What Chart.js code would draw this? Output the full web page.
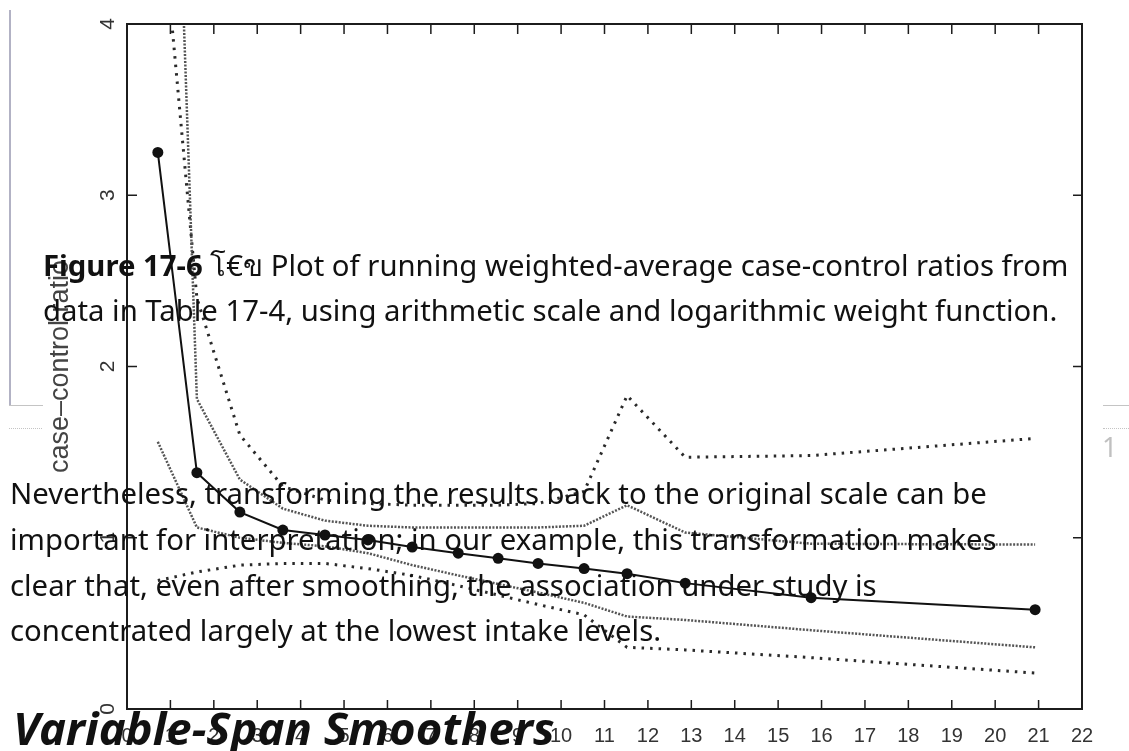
<!DOCTYPE html>
<html>
<head>
<meta charset="utf-8">
<script src="https://cdn.jsdelivr.net/npm/chart.js@4.4.1/dist/chart.umd.min.js"></script>
<style>
  body { margin: 0; background: #fff; }
  #page { position: relative; width: 1129px; height: 751px; overflow: hidden; background: #fff; }
  #chart { position: absolute; left: 0; top: 0; filter: blur(0.35px); }
  .line { position: absolute; white-space: nowrap; font: 29.3px/1 "Noto Sans", sans-serif; color: #111; }
  .heading { position: absolute; white-space: nowrap; font: italic bold 45.5px/1 "Noto Sans", sans-serif; color: #111; }
  .edge-v { position: absolute; left: 9px; top: 10px; width: 2px; height: 395px; background: #b2b2c4; }
  .edge-h { position: absolute; height: 1px; background: #c4c4c4; }
  .edge-dot { position: absolute; border-top: 1px dotted #c4c4c4; }
  .page-no { position: absolute; left: 1102px; top: 433px; font: 27px/1 "Noto Sans", sans-serif; color: #c0c0c0; }
</style>
</head>
<body>
<div id="page">
  <canvas id="chart" width="1129" height="751"></canvas>

  <div class="edge-v"></div>
  <div class="edge-h" style="left:9px; top:405px; width:34px"></div>
  <div class="edge-dot" style="left:9px; top:428px; width:33px"></div>
  <div class="edge-h" style="left:1103px; top:405px; width:26px"></div>
  <div class="edge-dot" style="left:1103px; top:428px; width:26px"></div>
  <div class="page-no">1</div>

  <div class="line" style="left:43px; top:251px"><b>Figure 17-6</b> โ€ข Plot of running weighted-average case-control ratios from</div>
  <div class="line" style="left:43px; top:296px">data in Table 17-4, using arithmetic scale and logarithmic weight function.</div>

  <div class="line" style="left:10px; top:479px">Nevertheless, transforming the results back to the original scale can be</div>
  <div class="line" style="left:10px; top:525px">important for interpretation; in our example, this transformation makes</div>
  <div class="line" style="left:10px; top:571px">clear that, even after smoothing, the association under study is</div>
  <div class="line" style="left:10px; top:616px">concentrated largely at the lowest intake levels.</div>

  <div class="heading" style="left:13px; top:705px">Variable-Span Smoothers</div>
</div>

<script>
// intake level (x) of each smoothed point
const intake = [0.71, 1.61, 2.6, 3.59, 4.56, 5.55, 6.57, 7.63, 8.55, 9.47, 10.53, 11.52, 12.86, 15.76, 20.92];
// running weighted-average case-control ratio
const ratio = [3.25, 1.38, 1.15, 1.045, 1.016, 0.987, 0.946, 0.91, 0.88, 0.85, 0.82, 0.79, 0.735, 0.65, 0.58];
// inner limits (fine dots)
const innerUpper = [8.4, 1.81, 1.34, 1.17, 1.1, 1.07, 1.06, 1.06, 1.06, 1.06, 1.07, 1.19, 1.03, 0.965, 0.96];
const innerLower = [1.56, 1.06, 1.0, 0.97, 0.95, 0.91, 0.84, 0.78, 0.73, 0.68, 0.62, 0.54, 0.52, 0.46, 0.36];
// outer limits (coarse dots)
const outerUpper = [4.9, 2.4, 1.6, 1.3, 1.22, 1.2, 1.19, 1.19, 1.19, 1.2, 1.27, 1.83, 1.47, 1.48, 1.58];
const outerLower = [0.75, 0.8, 0.84, 0.85, 0.85, 0.82, 0.78, 0.72, 0.665, 0.61, 0.55, 0.36, 0.345, 0.3, 0.21];

const xRange = [0, 22];
const yRange = [0, 4];
const yTitle = 'case\u2013control ratio';

const toPoints = (ys) => ys.map((y, i) => ({ x: intake[i], y }));

const band = (values, dash, color, width) => ({
    data: toPoints(values),
    borderColor: color,
    borderWidth: width,
    borderDash: dash,
    pointRadius: 0,
    tension: 0,
    order: 2,
});

// box round the plot, inward tick marks, rotated y labels
const framePlugin = {
    id: 'frame',
    afterDraw(chart) {
        const { ctx, chartArea: a, scales: { x, y } } = chart;
        ctx.save();
        ctx.strokeStyle = '#1c1c1c';
        ctx.lineWidth = 2;
        ctx.strokeRect(a.left, a.top, a.width, a.height);

        ctx.lineWidth = 1.5;
        ctx.beginPath();
        x.ticks.forEach(({ value }) => {
            if (value <= x.min || value >= x.max) return;
            const px = x.getPixelForValue(value);
            ctx.moveTo(px, a.top);
            ctx.lineTo(px, a.top + 10);
            ctx.moveTo(px, a.bottom);
            ctx.lineTo(px, a.bottom - 9);
        });
        y.ticks.forEach(({ value }) => {
            if (value <= y.min || value >= y.max) return;
            const py = y.getPixelForValue(value);
            ctx.moveTo(a.left, py);
            ctx.lineTo(a.left + 10, py);
            ctx.moveTo(a.right, py);
            ctx.lineTo(a.right - 9, py);
        });
        ctx.stroke();

        ctx.fillStyle = '#333';
        ctx.font = '21px "Liberation Sans", Arial, sans-serif';
        ctx.textAlign = 'center';
        ctx.textBaseline = 'middle';
        y.ticks.forEach(({ value, label }) => {
            ctx.save();
            ctx.translate(a.left - 19, y.getPixelForValue(value));
            ctx.rotate(-Math.PI / 2);
            ctx.fillText(label, 0, 0);
            ctx.restore();
        });
        ctx.restore();
    },
};

new Chart(document.getElementById('chart'), {
    type: 'line',
    data: {
        datasets: [
            {
                data: toPoints(ratio),
                borderColor: '#111',
                backgroundColor: '#111',
                borderWidth: 2,
                pointRadius: 5.5,
                pointBackgroundColor: '#111',
                pointBorderWidth: 0,
                tension: 0,
                order: 1,
            },
            band(innerUpper, [2, 1.5], '#555', 2.5),
            band(innerLower, [2, 1.5], '#555', 2.5),
            band(outerUpper, [2.5, 6], '#2a2a2a', 3),
            band(outerLower, [2.5, 6], '#2a2a2a', 3),
        ],
    },
    options: {
        responsive: false,
        devicePixelRatio: 1,
        animation: false,
        layout: { padding: { top: 24, right: 47, bottom: 0, left: 0 } },
        plugins: { legend: { display: false }, tooltip: { enabled: false } },
        scales: {
            x: {
                type: 'linear',
                min: xRange[0],
                max: xRange[1],
                grid: { display: false, drawTicks: false },
                border: { display: false },
                ticks: {
                    stepSize: 1,
                    autoSkip: false,
                    maxRotation: 0,
                    padding: 15,
                    color: '#333',
                    font: { family: '"Liberation Sans", Arial, sans-serif', size: 20 },
                },
                afterFit: (scale) => { scale.height = 42; },
            },
            y: {
                type: 'linear',
                min: yRange[0],
                max: yRange[1],
                grid: { display: false, drawTicks: false },
                border: { display: false },
                ticks: { stepSize: 1, display: false },
                title: {
                    display: true,
                    text: yTitle,
                    color: '#444',
                    font: { family: '"Liberation Sans", Arial, sans-serif', size: 27 },
                    padding: { top: 44, bottom: 0 },
                },
                afterFit: (scale) => { scale.width = 127; },
            },
        },
    },
    plugins: [framePlugin],
});
</script>
</body>
</html>
